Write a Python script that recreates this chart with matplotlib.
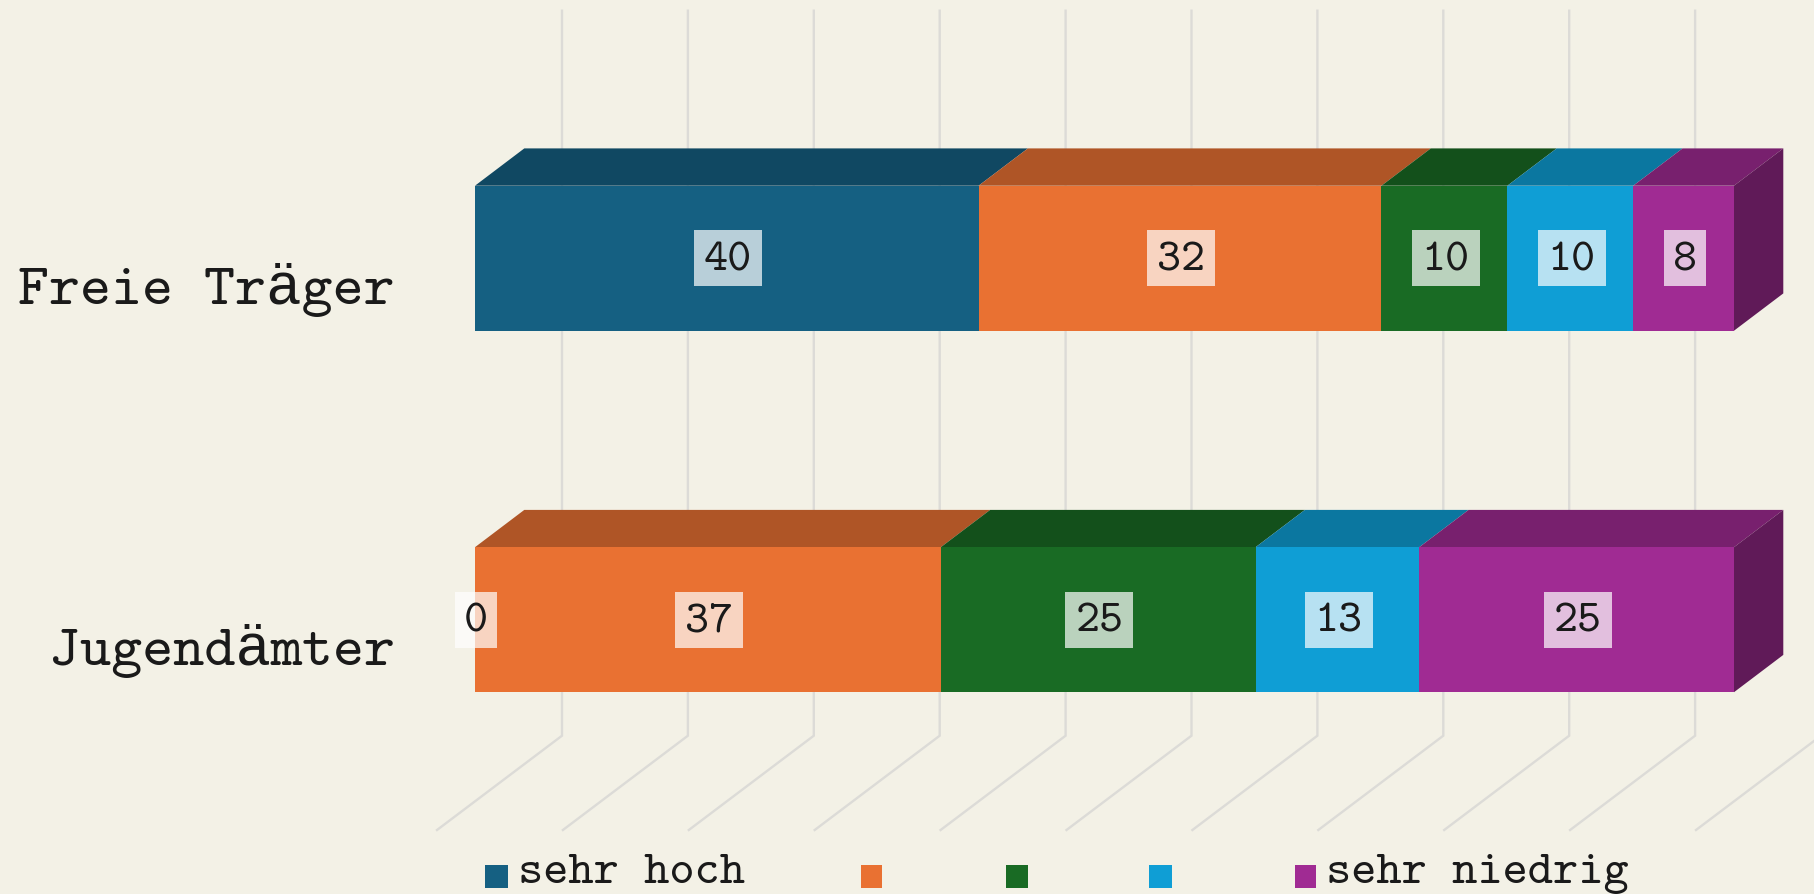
import matplotlib
matplotlib.use('Agg')
import matplotlib.pyplot as plt
from matplotlib.patches import Polygon, Rectangle
from matplotlib.colors import to_rgb

# data
categories = ['Freie Träger', 'Jugendämter']
legend_labels = ['sehr hoch', '', '', '', 'sehr niedrig']
colors = ['#156082', '#E97132', '#196B24', '#0F9ED5', '#A02B93']
row_freie = [40, 32, 10, 10, 8]
row_jugend = [0, 37, 25, 13, 25]
rows = [row_freie, row_jugend]
grid_values = [0, 10, 20, 30, 40, 50, 60, 70, 80, 90, 100]

W, H = 1814, 894
bg = '#F3F1E6'
grid_col = '#DCDBD7'
# cmtt10 ships with matplotlib, closest thing here to the typewriter face of the original
plt.rcParams['font.family'] = ['cmtt10', 'Liberation Mono', 'DejaVu Sans Mono']

fig = plt.figure(figsize=(W / 100, H / 100), dpi=100, facecolor=bg)
# plot area: value 0..100 is x 475..1734, category spacing is 361.5 px
ax = fig.add_axes([475 / W, 1 - 800.45 / H, 1259 / W, 723 / H])
ax.set_xlim(0, 100)
ax.set_ylim(1.5, -0.5)
ax.axis('off')

ux = 1259 / 100     # px per value
uy = 361.5          # px per category
bar_h = 145 / uy
dx = 49.3 / ux      # 3d depth of the bars
dy = 37.3 / uy


def shade(c, f):
    return tuple(v * f for v in to_rgb(c))


def py(y_px):
    # pixel row to category units
    return (y_px - 258.2) / uy


# walls and floor lines
for v in grid_values:
    back = v + 87 / ux
    front = v - 38 / ux
    ax.plot([back, back, front], [py(10.7), py(735.7), py(830)], color=grid_col,
            lw=1.7, clip_on=False, zorder=1, solid_joinstyle='miter')

# bars
for r, row in enumerate(rows):
    left = 0
    top = r - bar_h / 2
    for i, val in enumerate(row):
        ax.barh(r, val, left=left, height=bar_h, color=colors[i], zorder=3)
        roof = [(left, top), (left + val, top), (left + val + dx, top - dy), (left + dx, top - dy)]
        ax.add_patch(Polygon(roof, closed=True, fc=shade(colors[i], 0.75), ec='none', zorder=2.5, clip_on=False))
        left += val
    end_col = colors[len(row) - 1]
    side = [(left, top), (left + dx, top - dy), (left + dx, top + bar_h - dy), (left, top + bar_h)]
    ax.add_patch(Polygon(side, closed=True, fc=shade(end_col, 0.6), ec='none', zorder=2.5, clip_on=False))

    # data labels
    left = 0
    for i, val in enumerate(row):
        cx = left + val / 2 + 0.1
        s = str(val)
        bw = (len(s) * 26 + 16) / ux
        ax.add_patch(Rectangle((cx - bw / 2, r - 28 / uy), bw, 56 / uy, fc='white', alpha=0.7,
                               ec='none', zorder=4, clip_on=False))
        ax.text(cx, r + 12 / uy, s, ha='center', va='baseline', fontsize=33, color='#1a1a1a',
                zorder=5, clip_on=False)
        left += val

    # category label
    ax.text((395 - 475) / ux, r + 45.5 / uy, categories[r], ha='right', va='baseline', fontsize=42.6,
            color='#1a1a1a', clip_on=False)

# legend, drawn by hand since the gaps are not even
swatch_x = [485, 861, 1006, 1149, 1295]
swatch_w = [23, 21, 22, 23, 21]
for i, lab in enumerate(legend_labels):
    ax.add_patch(Rectangle(((swatch_x[i] - 475) / ux, py(865)), swatch_w[i] / ux, 23 / uy,
                           fc=colors[i], ec='none', clip_on=False))
    if lab:
        ax.text((swatch_x[i] + swatch_w[i] + 10 - 475) / ux, py(883), lab, ha='left', va='baseline',
                fontsize=34.6, color='#1a1a1a', clip_on=False)

fig.savefig('out.png', dpi=100, facecolor=bg)
